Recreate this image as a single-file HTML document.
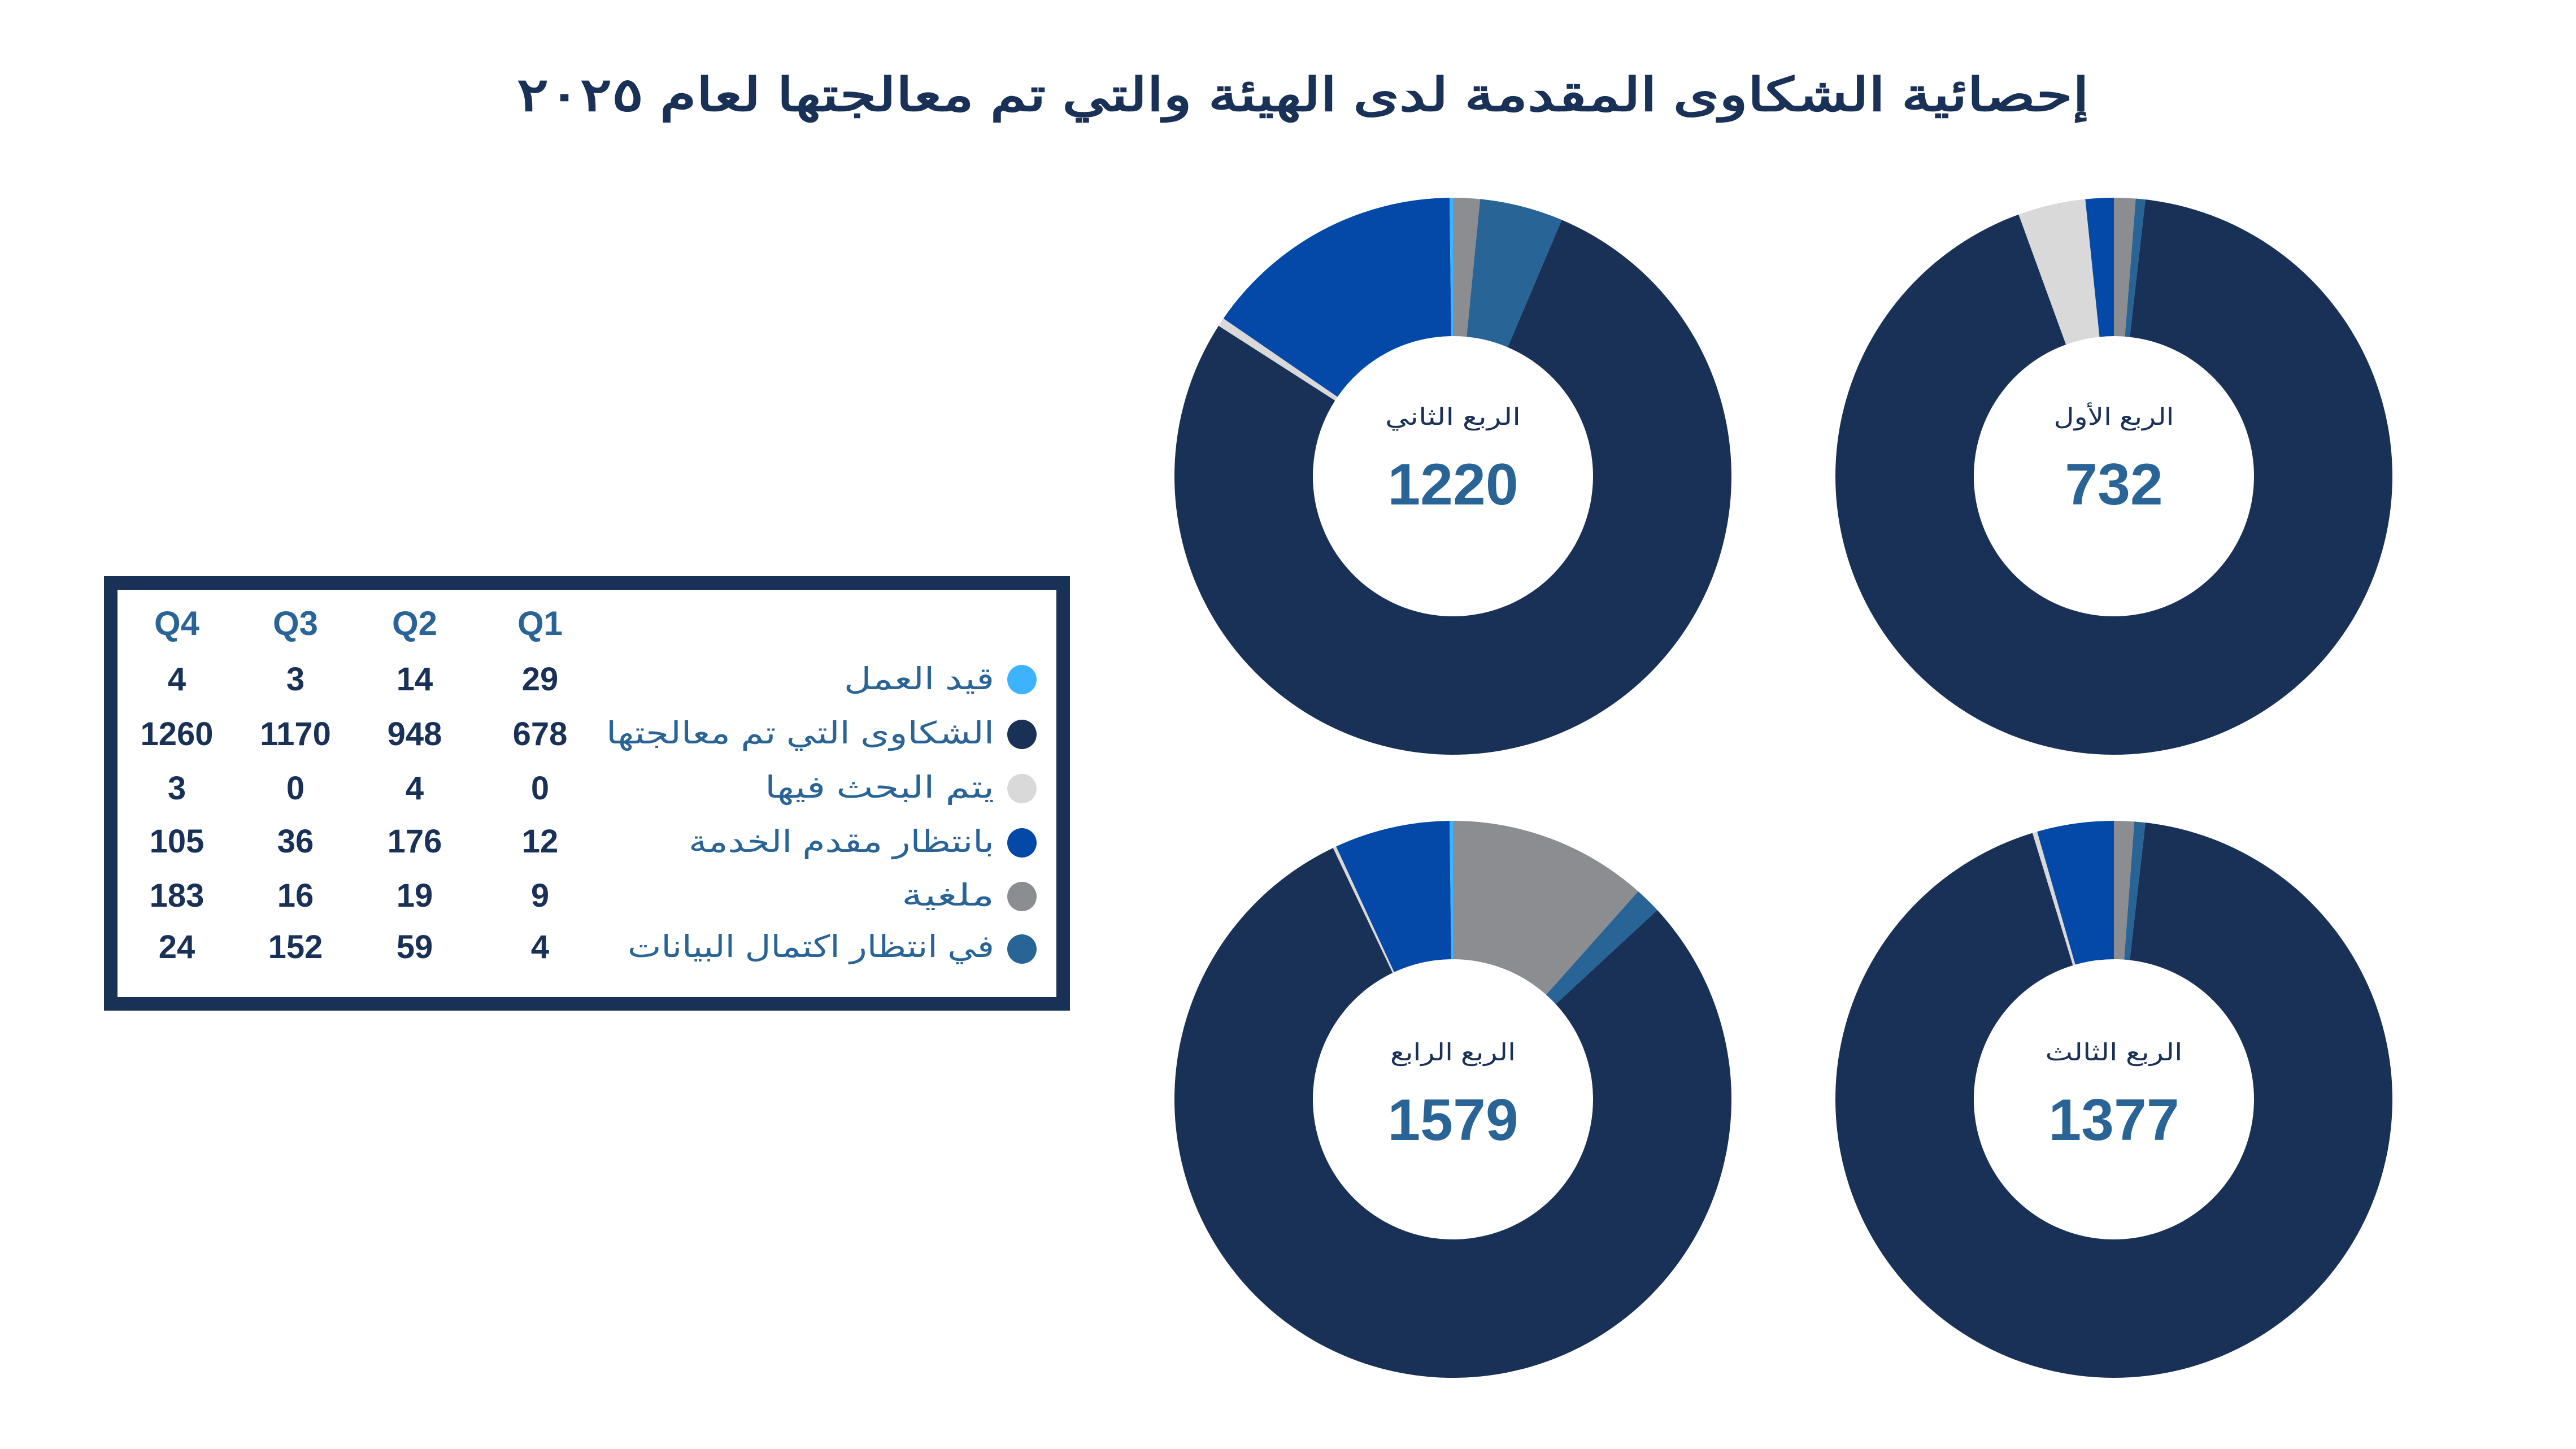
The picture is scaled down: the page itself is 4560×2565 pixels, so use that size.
<!DOCTYPE html>
<html><head><meta charset="utf-8">
<style>
html,body{margin:0;padding:0;background:#fff;}
svg{display:block;}
text{font-family:"Liberation Sans","Noto Sans CJK SC",sans-serif;}
</style></head>
<body>
<svg id="s" width="4560" height="2565" viewBox="0 0 4560 2565" xmlns="http://www.w3.org/2000/svg">
<rect width="4560" height="2565" fill="#fff"/>
<text x="3698" y="196" direction="rtl" text-anchor="start" font-size="82" font-weight="600" fill="#1a3157" textLength="2783" lengthAdjust="spacingAndGlyphs">إحصائية الشكاوى المقدمة لدى الهيئة والتي تم معالجتها لعام ٢٠٢٥</text>

<g id="donuts"></g>

<!-- table -->
<rect x="196" y="1032" width="1686" height="745" fill="#fff" stroke="#1a3157" stroke-width="24"/>
<g font-weight="bold" font-size="60" text-anchor="middle" fill="#2a6496">
<text x="313" y="1124">Q4</text><text x="523" y="1124">Q3</text><text x="734" y="1124">Q2</text><text x="956" y="1124">Q1</text>
</g>
<g font-weight="bold" font-size="58" text-anchor="middle" fill="#1a3157">
<text x="313" y="1222">4</text><text x="523" y="1222">3</text><text x="734" y="1222">14</text><text x="956" y="1222">29</text>
<text x="313" y="1319">1260</text><text x="523" y="1319">1170</text><text x="734" y="1319">948</text><text x="956" y="1319">678</text>
<text x="313" y="1415">3</text><text x="523" y="1415">0</text><text x="734" y="1415">4</text><text x="956" y="1415">0</text>
<text x="313" y="1509">105</text><text x="523" y="1509">36</text><text x="734" y="1509">176</text><text x="956" y="1509">12</text>
<text x="313" y="1605">183</text><text x="523" y="1605">16</text><text x="734" y="1605">19</text><text x="956" y="1605">9</text>
<text x="313" y="1696">24</text><text x="523" y="1696">152</text><text x="734" y="1696">59</text><text x="956" y="1696">4</text>
</g>
<g font-size="54" fill="#2a6496" direction="rtl" text-anchor="start">
<text x="1760" y="1220" textLength="266" lengthAdjust="spacingAndGlyphs">قيد العمل</text>
<text x="1760" y="1316" textLength="687" lengthAdjust="spacingAndGlyphs">الشكاوى التي تم معالجتها</text>
<text x="1760" y="1412" textLength="406" lengthAdjust="spacingAndGlyphs">يتم البحث فيها</text>
<text x="1760" y="1508" textLength="541" lengthAdjust="spacingAndGlyphs">بانتظار مقدم الخدمة</text>
<text x="1760" y="1603" textLength="164" lengthAdjust="spacingAndGlyphs">ملغية</text>
<text x="1760" y="1694" textLength="649" lengthAdjust="spacingAndGlyphs">في انتظار  اكتمال البيانات</text>
</g>
<circle cx="1809" cy="1203" r="26" fill="#3db3ff"/>
<circle cx="1809" cy="1300" r="26" fill="#1a3157"/>
<circle cx="1809" cy="1396" r="26" fill="#d9d9d9"/>
<circle cx="1809" cy="1492" r="26" fill="#0449a8"/>
<circle cx="1809" cy="1587" r="26" fill="#8c8d91"/>
<circle cx="1809" cy="1680" r="26" fill="#286496"/>

<!-- center labels -->
<g font-size="42" fill="#1a3157" direction="rtl" text-anchor="middle">
<text x="3742" y="752" textLength="213" lengthAdjust="spacingAndGlyphs">الربع الأول</text>
<text x="2572" y="752" textLength="240" lengthAdjust="spacingAndGlyphs">الربع الثاني</text>
<text x="2572" y="1877" textLength="222" lengthAdjust="spacingAndGlyphs">الربع الرابع</text>
<text x="3742" y="1877" textLength="243" lengthAdjust="spacingAndGlyphs">الربع الثالث</text>
</g>
<g font-size="104" font-weight="bold" fill="#2a6496" text-anchor="middle">
<text x="3742" y="893">732</text>
<text x="2572" y="893">1220</text>
<text x="2572" y="2018">1579</text>
<text x="3742" y="2018">1377</text>
</g>
</svg>
<script>
(function(){
var C={navy:"#1a3157",blue:"#0449a8",teal:"#286496",gray:"#8c8d91",lg:"#d9d9d9",lb:"#3db3ff"};
var R=493,r=248;
function pt(cx,cy,rad,a){var t=(a-90)*Math.PI/180;return [cx+rad*Math.cos(t),cy+rad*Math.sin(t)];}
function arc(cx,cy,a0,a1,col){
 var large=(a1-a0)>180?1:0;
 var p1=pt(cx,cy,R,a0),p2=pt(cx,cy,R,a1),p3=pt(cx,cy,r,a1),p4=pt(cx,cy,r,a0);
 return '<path d="M'+p1[0]+' '+p1[1]+' A'+R+' '+R+' 0 '+large+' 1 '+p2[0]+' '+p2[1]+' L'+p3[0]+' '+p3[1]+' A'+r+' '+r+' 0 '+large+' 0 '+p4[0]+' '+p4[1]+' Z" fill="'+col+'"/>';
}
var D=[
 [3742,843,[[0,4.5,"gray"],[4.5,6.5,"teal"],[6.5,340,"navy"],[340,354.1,"lg"],[354.1,360,"blue"]]],
 [2572,843,[[0,5.6,"gray"],[5.6,23,"teal"],[23,302.7,"navy"],[302.7,304.5,"lg"],[304.5,359.3,"blue"],[359.3,360,"lb"]]],
 [2572,1946,[[0,41.7,"gray"],[41.7,47.2,"teal"],[47.2,334.5,"navy"],[334.5,335.2,"lg"],[335.2,359.3,"blue"],[359.3,360,"lb"]]],
 [3742,1946,[[0,4.2,"gray"],[4.2,6.5,"teal"],[6.5,343,"navy"],[343,344,"lg"],[344,360,"blue"]]]
];
var h='';
D.forEach(function(d){d[2].forEach(function(s){h+=arc(d[0],d[1],s[0],s[1],C[s[2]]);});});
document.getElementById('donuts').innerHTML=h;
})();
</script>
</body></html>
